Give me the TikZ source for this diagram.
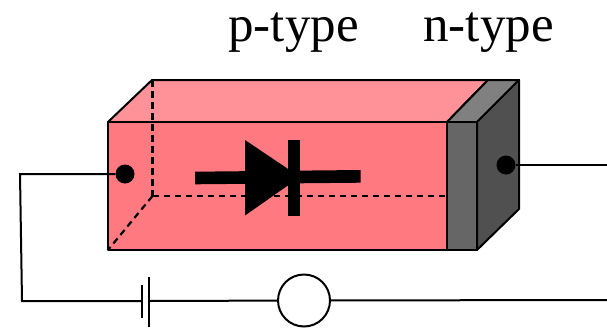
\documentclass[tikz,border=0pt]{standalone}
\usepackage{fontspec}
\setmainfont{Liberation Serif}
\usepackage{tikz}

\definecolor{pfront}{HTML}{FF7A80}
\definecolor{ptop}{HTML}{FF9298}
\definecolor{nfront}{HTML}{666666}
\definecolor{ntop}{HTML}{808080}
\definecolor{nside}{HTML}{505050}

\begin{document}
\begin{tikzpicture}
 [x=1pt,y=-1pt,
  box line/.style={draw=black,line width=2pt,line join=round},
  hidden line/.style={black,line width=2.2pt,dash pattern=on 6.5pt off 4.5pt},
  wire/.style={black,line width=2pt},
  plate/.style={black,line width=2pt},
  contact node/.style={circle,fill=black,minimum size=19pt,inner sep=0pt},
  meter node/.style={circle,draw=black,fill=white,line width=2pt,minimum size=52pt,inner sep=0pt},
  type label/.style={font=\fontsize{51}{53}\selectfont,inner sep=0pt,anchor=base}]
 \useasboundingbox (0,0) rectangle (607,327);

 % crystal
 \filldraw[box line,fill=ptop] (108,122) -- (152,80) -- (488,80) -- (447,122) -- cycle;
 \filldraw[box line,fill=pfront] (108,122) rectangle (447,250);
 \filldraw[box line,fill=ntop] (447,122) -- (488,80) -- (519,80) -- (477,122) -- cycle;
 \filldraw[box line,fill=nfront] (447,122) rectangle (477,250);
 \filldraw[box line,fill=nside] (477,122) -- (519,80) -- (519,209) -- (477,250) -- cycle;

 % hidden edges
 \draw[hidden line] (152.5,80) -- (152.5,196);
 \draw[hidden line] (152.5,196) -- (447,196);
 \draw[hidden line] (152.5,196) -- (108,250);

 % diode
 \fill[black] (195,171.7) -- (360.5,170) -- (360.5,182.7) -- (195,184.3) -- cycle;
 \fill[black] (245,140) -- (300,177) -- (245,215.5) -- cycle;
 \fill[black] (287.5,139.5) rectangle (300,215.5);

 \node[type label] (ptype) at (293.5,41) {p-type};
 \node[type label] (ntype) at (488.5,41) {n-type};

 \node[contact node] (leftdot) at (125,174) {};
 \node[contact node] (rightdot) at (506,165) {};
 \node[meter node] (meter) at (304,300.5) {};

 \coordinate (c1) at (20,174);
 \coordinate (c2) at (22,301);
 \coordinate (bat1) at (142,301);
 \coordinate (bat1a) at (142,285);
 \coordinate (bat1b) at (142,318);
 \coordinate (bat2) at (149,301);
 \coordinate (bat2a) at (149,277);
 \coordinate (bat2b) at (149,327);
 \coordinate (e1) at (607,165);
 \coordinate (e2) at (607,300);

 \draw[wire] (leftdot) -- (c1) -- (c2) -- (bat1);
 \draw[wire] (bat2) -- (meter);
 \draw[wire] (meter) -- (e2);
 \draw[wire] (rightdot) -- (e1);
 \draw[plate] (bat1a) -- (bat1b);
 \draw[plate] (bat2a) -- (bat2b);
\end{tikzpicture}
\end{document}
